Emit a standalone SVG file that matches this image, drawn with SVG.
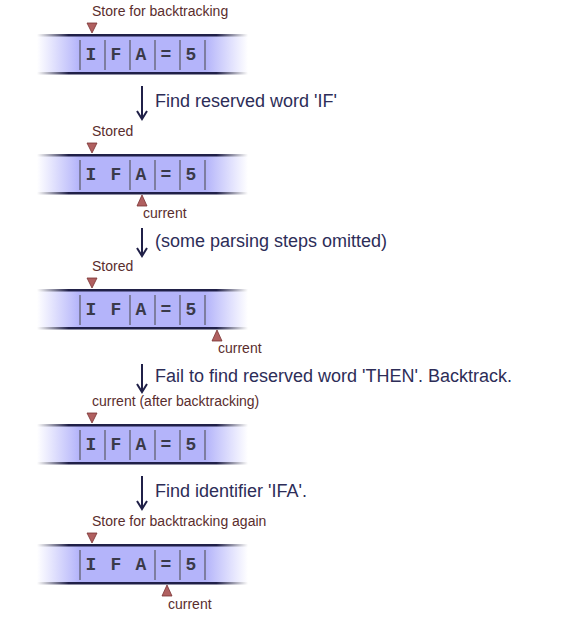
<svg xmlns="http://www.w3.org/2000/svg" width="564" height="624" viewBox="0 0 564 624">
<defs>
<linearGradient id="fillG" x1="37" y1="0" x2="248" y2="0" gradientUnits="userSpaceOnUse">
<stop offset="0" stop-color="#ffffff"/>
<stop offset="0.2" stop-color="#b4b4fa"/>
<stop offset="0.8" stop-color="#b4b4fa"/>
<stop offset="1" stop-color="#ffffff"/>
</linearGradient>
<linearGradient id="lineG" x1="37" y1="0" x2="248" y2="0" gradientUnits="userSpaceOnUse">
<stop offset="0" stop-color="#ffffff"/>
<stop offset="0.15" stop-color="#202048"/>
<stop offset="0.85" stop-color="#202048"/>
<stop offset="1" stop-color="#ffffff"/>
</linearGradient>
<g id="tape">
<rect x="37" y="0" width="211" height="40" fill="url(#fillG)"/>
<rect x="37" y="0" width="211" height="2.5" fill="url(#lineG)"/>
<rect x="37" y="38" width="211" height="2.5" fill="url(#lineG)"/>
<text x="91" y="26" class="ch">I</text>
<text x="116" y="26" class="ch">F</text>
<text x="141" y="26" class="ch">A</text>
<text x="166" y="26" class="ch">=</text>
<text x="191" y="26" class="ch">5</text>
</g>
<polygon id="down" points="87,-11 97,-11 92,-1" class="mk"/>
<polygon id="up" points="0,1 -5,12 5,12" class="mk"/>
<marker id="ah" markerWidth="12" markerHeight="12" refX="10" refY="6" orient="auto" markerUnits="userSpaceOnUse" viewBox="0 0 12 12">
<path d="M2,1 L10,6 L2,11" fill="none" stroke="#202048" stroke-width="2"/>
</marker>
</defs>
<style>
.ch{font-family:"Liberation Mono","Courier New",monospace;font-weight:bold;font-size:18px;fill:#3a3a4a;text-anchor:middle}
.mk{fill:#b06060;stroke:#7a3434;stroke-width:0.8}
.lbl{font-family:"Liberation Sans",Arial,sans-serif;font-size:14px;fill:#5a2d2d}
.step{font-family:"Liberation Sans",Arial,sans-serif;font-size:18px;fill:#2d2d58}
.dv{stroke:#70708a;stroke-width:1.6}
.arr{stroke:#202048;stroke-width:2;fill:none}
</style>

<g id="tape1" transform="translate(0,34)">
<use href="#tape"/>
<g class="dv"><line x1="80" y1="6" x2="80" y2="36"/><line x1="105" y1="6" x2="105" y2="36"/><line x1="130" y1="6" x2="130" y2="36"/><line x1="155" y1="6" x2="155" y2="36"/><line x1="180" y1="6" x2="180" y2="36"/><line x1="205" y1="6" x2="205" y2="36"/></g>
<use href="#down"/>
<text x="92" y="-18" class="lbl">Store for backtracking</text>
</g>

<g id="tape2" transform="translate(0,154)">
<use href="#tape"/>
<g class="dv"><line x1="80" y1="6" x2="80" y2="36"/><line x1="130" y1="6" x2="130" y2="36"/><line x1="155" y1="6" x2="155" y2="36"/><line x1="180" y1="6" x2="180" y2="36"/><line x1="205" y1="6" x2="205" y2="36"/></g>
<use href="#down"/>
<text x="92" y="-18" class="lbl">Stored</text>
<use href="#up" x="142" y="40"/>
<text x="143" y="64" class="lbl">current</text>
</g>

<g id="tape3" transform="translate(0,289)">
<use href="#tape"/>
<g class="dv"><line x1="80" y1="6" x2="80" y2="36"/><line x1="130" y1="6" x2="130" y2="36"/><line x1="155" y1="6" x2="155" y2="36"/><line x1="180" y1="6" x2="180" y2="36"/><line x1="205" y1="6" x2="205" y2="36"/></g>
<use href="#down"/>
<text x="92" y="-18" class="lbl">Stored</text>
<use href="#up" x="217" y="40"/>
<text x="218" y="64" class="lbl">current</text>
</g>

<g id="tape4" transform="translate(0,424)">
<use href="#tape"/>
<g class="dv"><line x1="80" y1="6" x2="80" y2="36"/><line x1="105" y1="6" x2="105" y2="36"/><line x1="130" y1="6" x2="130" y2="36"/><line x1="155" y1="6" x2="155" y2="36"/><line x1="180" y1="6" x2="180" y2="36"/><line x1="205" y1="6" x2="205" y2="36"/></g>
<use href="#down"/>
<text x="92" y="-18" class="lbl">current (after backtracking)</text>
</g>

<g id="tape5" transform="translate(0,544)">
<use href="#tape"/>
<g class="dv"><line x1="80" y1="6" x2="80" y2="36"/><line x1="155" y1="6" x2="155" y2="36"/><line x1="180" y1="6" x2="180" y2="36"/><line x1="205" y1="6" x2="205" y2="36"/></g>
<use href="#down"/>
<text x="92" y="-18" class="lbl">Store for backtracking again</text>
<use href="#up" x="167" y="40"/>
<text x="168" y="65" class="lbl">current</text>
</g>

<g id="connectors">
<line x1="142" y1="86" x2="142" y2="119" class="arr" marker-end="url(#ah)"/>
<line x1="142" y1="228" x2="142" y2="256" class="arr" marker-end="url(#ah)"/>
<line x1="142" y1="364" x2="142" y2="392" class="arr" marker-end="url(#ah)"/>
<line x1="142" y1="476" x2="142" y2="509" class="arr" marker-end="url(#ah)"/>
<text x="155" y="107" class="step">Find reserved word 'IF'</text>
<text x="155" y="247" class="step">(some parsing steps omitted)</text>
<text x="155" y="382" class="step">Fail to find reserved word 'THEN'. Backtrack.</text>
<text x="155" y="497" class="step">Find identifier 'IFA'.</text>
</g>
</svg>
